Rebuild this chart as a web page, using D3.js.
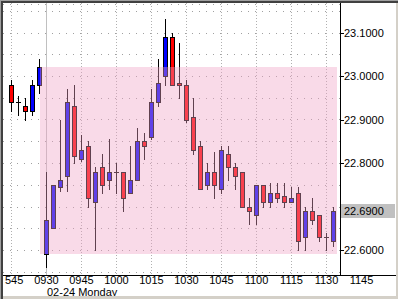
<!DOCTYPE html>
<html>
<head>
<meta charset="utf-8">
<script src="https://cdn.jsdelivr.net/npm/d3@7"></script>
<style>
  body { margin: 0; background: #fff; }
  svg { display: block; }
  text { font-family: "Liberation Sans", Arial, sans-serif; font-size: 11px; fill: #000; }
</style>
</head>
<body>
<svg id="chart" width="398" height="299"></svg>
<script>
// 3-minute bars: last 5 of the previous session, then 02-24 from 09:30
var times = ["1545", "1548", "1551", "1554", "1557",
  "0930", "0933", "0936", "0939", "0942", "0945", "0948", "0951", "0954", "0957",
  "1000", "1003", "1006", "1009", "1012", "1015", "1018", "1021", "1024", "1027",
  "1030", "1033", "1036", "1039", "1042", "1045", "1048", "1051", "1054", "1057",
  "1100", "1103", "1106", "1109", "1112", "1115", "1118", "1121", "1124", "1127",
  "1130", "1133"];
var opens = [22.98, 22.94, 22.93, 22.92, 22.98,
  22.59, 22.65, 22.745, 22.77, 22.93, 22.81, 22.84, 22.71, 22.79, 22.76,
  22.78, 22.78, 22.73, 22.76, 22.85, 22.86, 22.94, 23.00, 23.09, 22.985,
  22.98, 22.905, 22.84, 22.75, 22.78, 22.74, 22.82, 22.79, 22.78, 22.70,
  22.68, 22.75, 22.71, 22.73, 22.725, 22.71, 22.73, 22.63, 22.69, 22.68,
  22.63, 22.62];
var highs = [22.99, 22.955, 22.95, 22.99, 23.04,
  22.78, 22.75, 22.90, 22.97, 22.98, 22.865, 22.85, 22.79, 22.82, 22.855,
  22.80, 22.78, 22.84, 22.88, 22.87, 22.97, 23.04, 23.13, 23.10, 23.075,
  22.99, 22.95, 22.85, 22.80, 22.825, 22.84, 22.84, 22.80, 22.78, 22.72,
  22.75, 22.75, 22.755, 22.755, 22.755, 22.745, 22.745, 22.70, 22.72, 22.68,
  22.64, 22.70];
var lows = [22.92, 22.91, 22.90, 22.91, 22.96,
  22.56, 22.65, 22.735, 22.735, 22.80, 22.805, 22.70, 22.60, 22.73, 22.74,
  22.73, 22.69, 22.73, 22.76, 22.81, 22.855, 22.93, 22.98, 22.98, 22.95,
  22.895, 22.82, 22.74, 22.74, 22.72, 22.73, 22.76, 22.74, 22.70, 22.66,
  22.66, 22.70, 22.70, 22.71, 22.70, 22.71, 22.60, 22.60, 22.66, 22.62,
  22.60, 22.61];
var closes = [22.94, 22.94, 22.92, 22.98, 23.02,
  22.67, 22.75, 22.76, 22.94, 22.815, 22.83, 22.72, 22.78, 22.75, 22.78,
  22.78, 22.72, 22.76, 22.85, 22.84, 22.94, 22.985, 23.09, 22.98, 22.98,
  22.90, 22.83, 22.74, 22.78, 22.75, 22.83, 22.79, 22.77, 22.70, 22.69,
  22.75, 22.71, 22.73, 22.72, 22.71, 22.72, 22.62, 22.69, 22.67, 22.63,
  22.63, 22.69];

var prevBars = 5; // bars before the 09:30 open
var xTickSlots = [-5, 0, 5, 10, 15, 20, 25, 30, 35, 40, 45];
var xTickLabels = ["545", "0930", "0945", "1000", "1015", "1030", "1045", "1100", "1115", "1130", "1145"];
var dayLabel = "02-24 Monday";
var yTickValues = [23.1, 23.0, 22.9, 22.8, 22.7, 22.6];
var lastPrice = 22.69;
var rangeTop = 23.02, rangeBottom = 22.59;

var W = 398, H = 299;
var plotLeft = 3, plotTop = 3, plotRight = 340, plotBottom = 275;

var svg = d3.select("#chart");

var x = d3.scaleLinear().domain([-5, 41]).range([11, 333]);
var y = d3.scaleLinear().domain([22.6, 23.1]).range([250, 32.5]);
var px = function (v) { return Math.round(v) + 0.5; };

svg.append("rect").attr("width", W).attr("height", H).attr("fill", "#fff");

svg.append("clipPath").attr("id", "plotClip")
  .append("rect")
  .attr("x", plotLeft).attr("y", plotTop)
  .attr("width", plotRight - plotLeft).attr("height", plotBottom - plotTop);

var plot = svg.append("g").attr("clip-path", "url(#plotClip)");

// grid
var yGrid = d3.range(22.55, 23.151, 0.05);
plot.selectAll(".hgrid").data(yGrid).enter().append("line")
  .attr("x1", plotLeft).attr("x2", plotRight)
  .attr("y1", function (d) { return px(y(d)); })
  .attr("y2", function (d) { return px(y(d)); })
  .attr("stroke", "#a0a0a0").attr("stroke-dasharray", "1,6");
plot.append("line")
  .attr("x1", plotLeft).attr("x2", plotRight)
  .attr("y1", 4.5).attr("y2", 4.5)
  .attr("stroke", "#a0a0a0").attr("stroke-dasharray", "1,6");

plot.selectAll(".vgrid").data(xTickSlots).enter().append("line")
  .attr("x1", function (d) { return px(x(d)); })
  .attr("x2", function (d) { return px(x(d)); })
  .attr("y1", plotTop).attr("y2", plotBottom)
  .attr("stroke", function (d) { return d === 0 ? "#c0c0c0" : "#b0b0b0"; })
  .attr("stroke-dasharray", function (d) { return d === 0 ? null : "1,2"; });

// candles
var bars = times.map(function (t, i) {
  return { slot: i - prevBars, o: opens[i], h: highs[i], l: lows[i], c: closes[i] };
});

var candle = plot.selectAll(".candle").data(bars).enter().append("g");

candle.append("line")
  .attr("x1", function (d) { return px(x(d.slot)); })
  .attr("x2", function (d) { return px(x(d.slot)); })
  .attr("y1", function (d) { return Math.round(y(d.h)); })
  .attr("y2", function (d) { return Math.round(y(d.l)) + 1; })
  .attr("stroke", "#000");

candle.filter(function (d) { return d.o !== d.c; }).append("rect")
  .attr("x", function (d) { return Math.round(x(d.slot)) - 1.5; })
  .attr("width", 4)
  .attr("y", function (d) { return Math.round(y(Math.max(d.o, d.c))) + 0.5; })
  .attr("height", function (d) {
    return Math.max(1, Math.round(y(Math.min(d.o, d.c))) - Math.round(y(Math.max(d.o, d.c))));
  })
  .attr("fill", function (d) { return d.c > d.o ? "#0000ff" : "#ff0000"; })
  .attr("stroke", "#000");

candle.filter(function (d) { return d.o === d.c; }).append("line")
  .attr("x1", function (d) { return Math.round(x(d.slot)) - 2; })
  .attr("x2", function (d) { return Math.round(x(d.slot)) + 3; })
  .attr("y1", function (d) { return px(y(d.o)); })
  .attr("y2", function (d) { return px(y(d.o)); })
  .attr("stroke", "#000");

// session range band, drawn over the bars
plot.append("rect")
  .attr("x", Math.round(x(-0.85)))
  .attr("width", Math.round(x(41.55)) - Math.round(x(-0.85)))
  .attr("y", Math.round(y(rangeTop)))
  .attr("height", Math.round(y(rangeBottom)) - Math.round(y(rangeTop)))
  .attr("fill", "rgba(240,162,197,0.4)");

// axes
svg.append("line")
  .attr("x1", plotRight + 0.5).attr("x2", plotRight + 0.5)
  .attr("y1", plotTop).attr("y2", plotBottom)
  .attr("stroke", "#000");
svg.append("line")
  .attr("x1", plotLeft).attr("x2", 396)
  .attr("y1", plotBottom + 0.5).attr("y2", plotBottom + 0.5)
  .attr("stroke", "#000");

var yAxis = svg.append("g");
yAxis.selectAll("line").data(yTickValues).enter().append("line")
  .attr("x1", plotRight).attr("x2", plotRight + 4)
  .attr("y1", function (d) { return px(y(d)); })
  .attr("y2", function (d) { return px(y(d)); })
  .attr("stroke", "#000");
// the 22.7000 label sits under the last-price marker, so it is left out
yAxis.selectAll("text").data(yTickValues.filter(function (d) { return Math.abs(d - lastPrice) > 0.02; }))
  .enter().append("text")
  .attr("x", plotRight + 4)
  .attr("y", function (d) { return Math.round(y(d)) + 4; })
  .text(function (d) { return d.toFixed(4); });

// last price marker
var ly = Math.round(y(lastPrice));
svg.append("rect")
  .attr("x", plotRight + 1).attr("y", ly - 7)
  .attr("width", 395 - plotRight - 1).attr("height", 14)
  .attr("fill", "#c0c0c0");
svg.append("text")
  .attr("x", plotRight + 4).attr("y", ly + 4)
  .text(lastPrice.toFixed(4));

// time labels
svg.selectAll(".xlab").data(xTickSlots).enter().append("text")
  .attr("x", function (d, i) { return i === 0 ? 5 : x(d) + 0.5; })
  .attr("y", 284)
  .attr("text-anchor", function (d, i) { return i === 0 ? "start" : "middle"; })
  .text(function (d, i) { return xTickLabels[i]; });

svg.append("text")
  .attr("x", x(0) + 1)
  .attr("y", 296)
  .text(dayLabel);

// window frame (bottom band drawn last, it cuts the day label's descender)
svg.append("rect").attr("x", 0).attr("y", 296).attr("width", W).attr("height", 3).attr("fill", "#d4d0c8");
svg.append("rect").attr("x", 396).attr("y", 0).attr("width", 2).attr("height", H).attr("fill", "#d4d0c8");
svg.append("rect").attr("x", 0).attr("y", 0).attr("width", W).attr("height", 1).attr("fill", "#a0a0a0");
svg.append("rect").attr("x", 0).attr("y", 0).attr("width", 1).attr("height", H).attr("fill", "#a0a0a0");
svg.append("rect").attr("x", 1).attr("y", 1).attr("width", W - 1).attr("height", 2).attr("fill", "#404040");
svg.append("rect").attr("x", 1).attr("y", 1).attr("width", 2).attr("height", H - 1).attr("fill", "#404040");
</script>
</body>
</html>
